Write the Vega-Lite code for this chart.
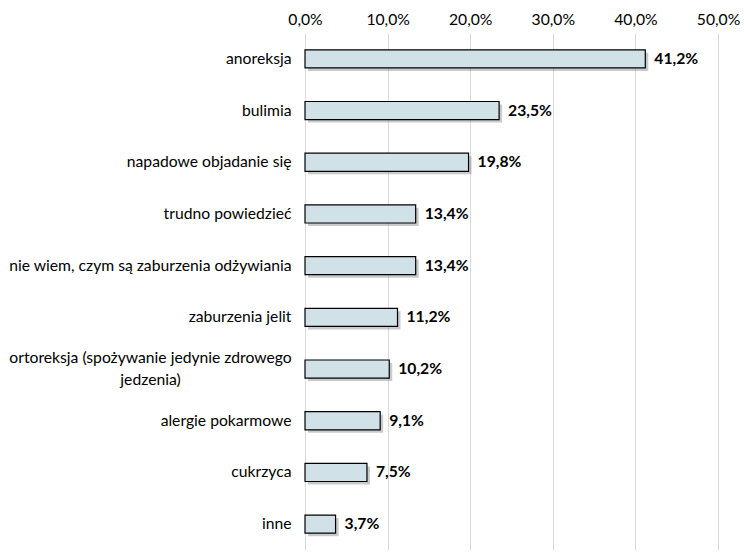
{
  "$schema": "https://vega.github.io/schema/vega-lite/v6.json",
  "autosize": "none",
  "width": 413,
  "height": 517,
  "padding": {"left": 305, "top": 33, "right": 26, "bottom": 3},
  "background": "white",
  "config": {
    "view": {"stroke": null},
    "locale": {"number": {"decimal": ",", "thousands": " ", "grouping": [3], "currency": ["", " zł"]}},
    "font": "Lato"
  },
  "data": {
    "values": [
      {"kategoria": "anoreksja", "wartosc": 0.412},
      {"kategoria": "bulimia", "wartosc": 0.235},
      {"kategoria": "napadowe objadanie się", "wartosc": 0.198},
      {"kategoria": "trudno powiedzieć", "wartosc": 0.134},
      {"kategoria": "nie wiem, czym są zaburzenia odżywiania", "wartosc": 0.134},
      {"kategoria": "zaburzenia jelit", "wartosc": 0.112},
      {"kategoria": "ortoreksja (spożywanie jedynie zdrowego jedzenia)", "wartosc": 0.102},
      {"kategoria": "alergie pokarmowe", "wartosc": 0.091},
      {"kategoria": "cukrzyca", "wartosc": 0.075},
      {"kategoria": "inne", "wartosc": 0.037}
    ]
  },
  "encoding": {
    "y": {
      "field": "kategoria",
      "type": "nominal",
      "sort": null,
      "scale": {"paddingInner": 0.65, "paddingOuter": 0.325},
      "axis": {
        "title": null,
        "domain": false,
        "ticks": false,
        "labelFont": "Lato",
        "labelFontSize": 15.7,
        "labelColor": "#000",
        "labelLimit": 400,
        "labelLineHeight": 22,
        "labelExpr": "indexof(datum.value, 'ortoreksja') >= 0 ? ['ortoreksja (spożywanie jedynie zdrowego', 'jedzenia)'] : datum.value",
        "labelAlign": {"condition": {"test": "indexof(datum.value, 'ortoreksja') >= 0", "value": "center"}, "value": "right"},
        "labelPadding": {"condition": {"test": "indexof(datum.value, 'ortoreksja') >= 0", "value": 155}, "value": 14},
        "labelOffset": {"condition": {"test": "indexof(datum.value, 'ortoreksja') >= 0", "value": -11}, "value": 0}
      }
    },
    "x": {
      "field": "wartosc",
      "type": "quantitative",
      "scale": {"domain": [0, 0.5], "nice": false},
      "axis": {
        "orient": "top",
        "title": null,
        "format": ".1%",
        "values": [0, 0.1, 0.2, 0.3, 0.4, 0.5],
        "domain": false,
        "ticks": false,
        "grid": true,
        "gridColor": "#d9d9d9",
        "gridWidth": 1,
        "labelFont": "Lato",
        "labelFontSize": 15.7,
        "labelColor": "#000",
        "labelPadding": 6,
        "labelFlush": false
      }
    }
  },
  "layer": [
    {
      "mark": {"type": "bar", "color": "#7a7a7a", "opacity": 0.4, "xOffset": 3, "yOffset": 3}
    },
    {
      "mark": {"type": "bar", "fill": "#d0e1e8", "stroke": "#000", "strokeWidth": 1.2}
    },
    {
      "mark": {"type": "text", "align": "left", "dx": 9, "fontWeight": "bold", "fontSize": 15.7, "font": "Lato", "color": "#000"},
      "encoding": {"text": {"field": "wartosc", "type": "quantitative", "format": ".1%"}}
    }
  ]
}
